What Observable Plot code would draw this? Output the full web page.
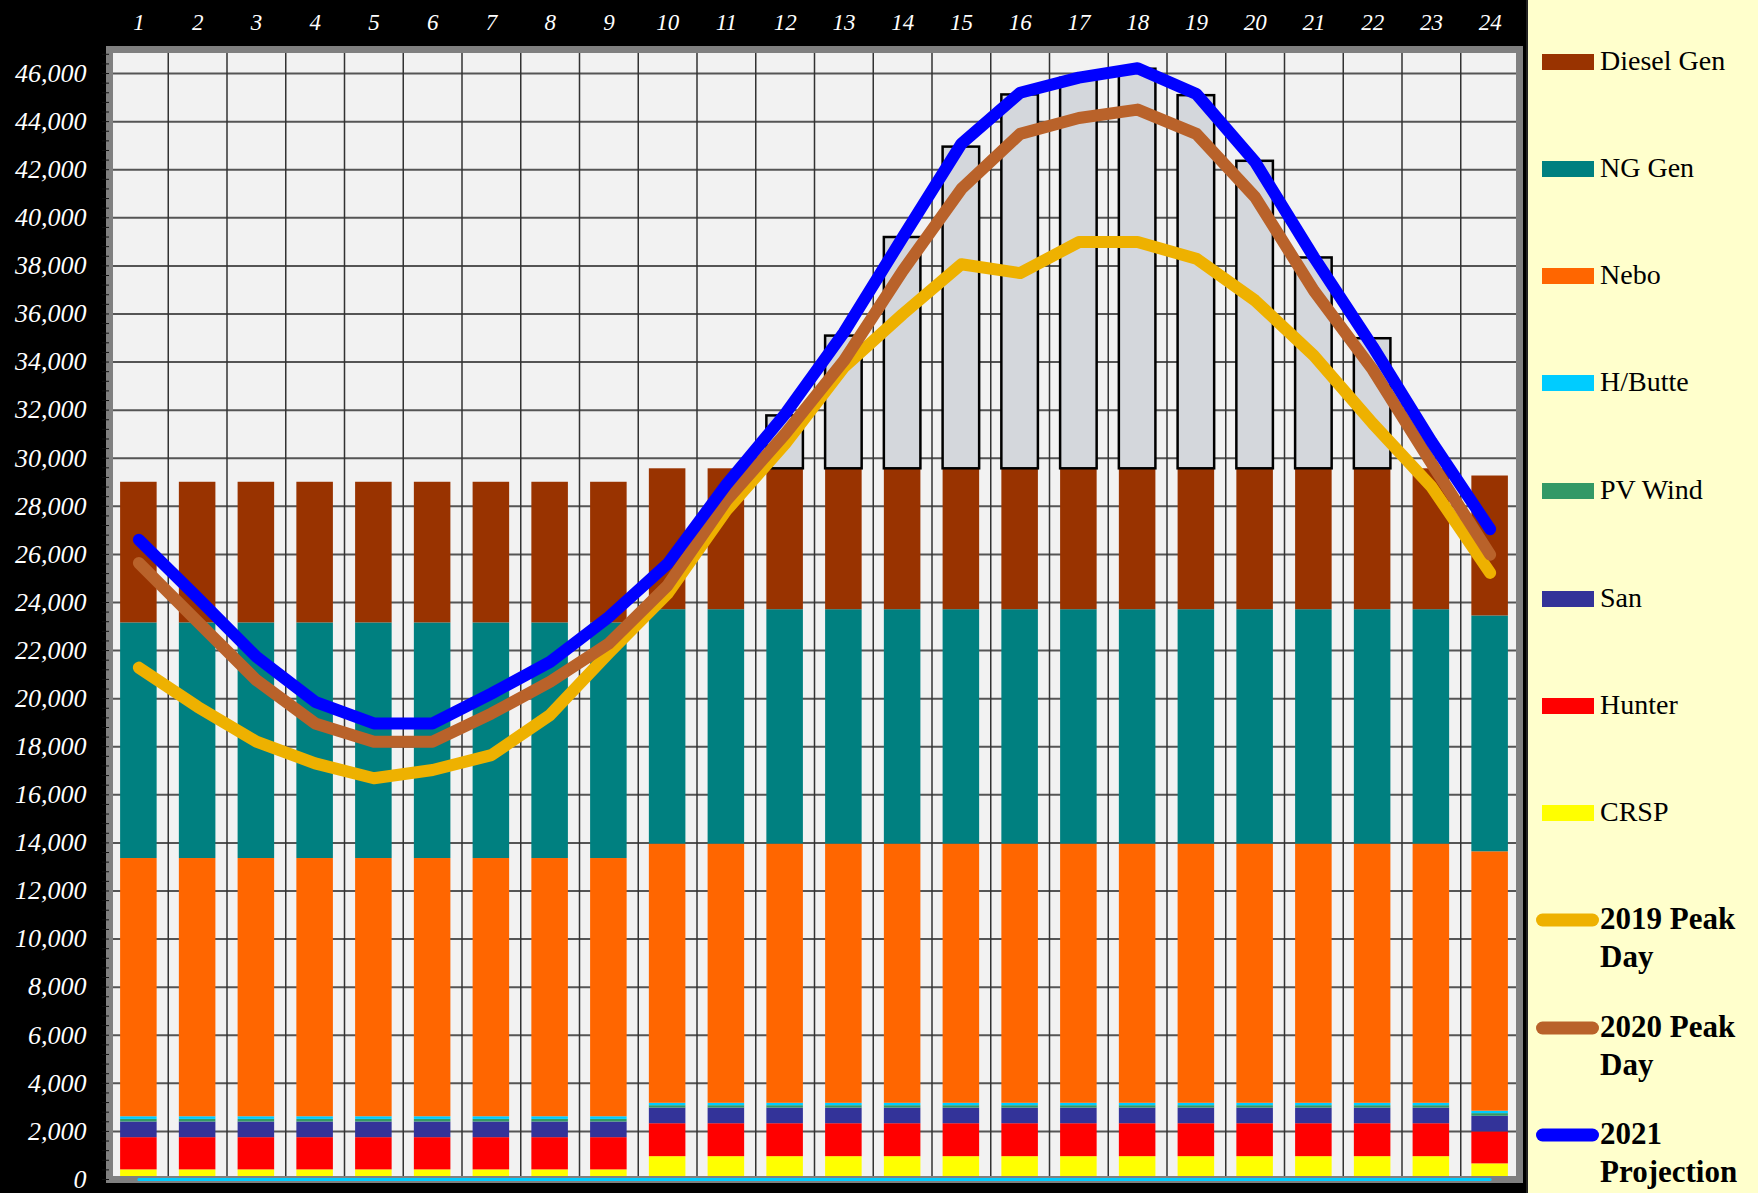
<!DOCTYPE html>
<html><head><meta charset="utf-8">
<script src="https://cdn.jsdelivr.net/npm/d3@7"></script>
<script src="https://cdn.jsdelivr.net/npm/@observablehq/plot@0.6"></script>
<style>
html,body{margin:0;padding:0;background:#000;}
#wrap{display:flex;width:1758px;height:1193px;overflow:hidden;background:#000;}
#chart{width:1526px;height:1193px;}
#chart g[aria-label$="tick label"]{font-style:italic;}
#legend{position:relative;width:232px;height:1193px;background:#FFFFCC;border-left:2px solid #222;box-sizing:border-box;font-family:"Liberation Serif","Times New Roman",serif;color:#000;}
.sw{position:absolute;left:14px;width:52px;height:16px;transform:translateY(-50%);}
.lbl{position:absolute;left:72px;font-size:28px;line-height:32px;transform:translateY(-50%);white-space:nowrap;}
.lsw{position:absolute;left:8px;width:63px;height:13px;border-radius:7px;transform:translateY(-50%);}
.blbl{position:absolute;left:72px;font-size:31px;line-height:38px;font-weight:bold;white-space:nowrap;}
</style></head><body>
<div id="wrap"><div id="chart"></div><div id="legend"></div></div>
<script>
// ---- data ----
const hours = [1,2,3,4,5,6,7,8,9,10,11,12,13,14,15,16,17,18,19,20,21,22,23,24];
const CRSP      = [400,400,400,400,400,400,400,400,400,950,950,950,950,950,950,950,950,950,950,950,950,950,950,650];
const Hunter    = [1340,1340,1340,1340,1340,1340,1340,1340,1340,1370,1370,1370,1370,1370,1370,1370,1370,1370,1370,1370,1370,1370,1370,1330];
const San       = [650,650,650,650,650,650,650,650,650,650,650,650,650,650,650,650,650,650,650,650,650,650,650,650];
const PVWind    = [110,110,110,110,110,110,110,110,110,100,100,100,100,100,100,100,100,100,100,100,100,100,100,110];
const HButte    = [110,110,110,110,110,110,110,110,110,100,100,100,100,100,100,100,100,100,100,100,100,100,100,100];
const Nebo      = [10740,10740,10740,10740,10740,10740,10740,10740,10740,10780,10780,10780,10780,10780,10780,10780,10780,10780,10780,10780,10780,10780,10780,10790];
const NGGen     = [9800,9800,9800,9800,9800,9800,9800,9800,9800,9750,9750,9750,9750,9750,9750,9750,9750,9750,9750,9750,9750,9750,9750,9810];
const DieselGen = [5850,5850,5850,5850,5850,5850,5850,5850,5850,5860,5860,5860,5860,5860,5860,5860,5860,5860,5860,5860,5860,5860,5860,5820];
// shortfall boxes (top values) for hours 12-22
const gapHours = [12,13,14,15,16,17,18,19,20,21,22];
const gapTops  = [31760,35080,39180,42940,45110,45800,46180,45080,42350,38330,34970];
// load lines
const peak2019 = [21290,19660,18210,17310,16690,17030,17650,19320,21900,24370,27830,30600,33780,35990,38070,37700,38990,38990,38300,36560,34270,31450,28820,25230];
const peak2020 = [25640,23200,20770,18970,18210,18210,19380,20700,22290,24710,28240,31010,34050,37790,41200,43490,44150,44500,43490,40860,36970,33690,29800,25990];
const proj2021 = [26610,24200,21740,19870,18970,18970,20210,21530,23400,25610,28900,31840,35230,39180,43080,45200,45830,46220,45150,42320,38360,34650,30700,27050];
const baseLine = [0,0,0,0,0,0,0,0,0,0,0,0,0,0,0,0,0,0,0,0,0,0,0,0];
const yTicks = [0,2000,4000,6000,8000,10000,12000,14000,16000,18000,20000,22000,24000,26000,28000,30000,32000,34000,36000,38000,40000,42000,44000,46000];
const stackNames  = ["CRSP","Hunter","San","PV Wind","H/Butte","Nebo","NG Gen","Diesel Gen"];
const stackColors = ["#FFFF00","#FF0000","#333399","#339966","#00CCFF","#FF6600","#008080","#993300"];
const stackValues = [CRSP,Hunter,San,PVWind,HButte,Nebo,NGGen,DieselGen];
const lineNames  = ["2019 Peak Day","2020 Peak Day","2021 Projection"];
const lineColors = ["#EEB100","#B9622A","#0000FF"];
const lineValues = [peak2019,peak2020,proj2021];

// ---- tables ----
const rows = [];
const stackTop = [];
hours.forEach((h,i)=>{
  let acc = 0;
  stackNames.forEach((s,k)=>{
    const v = stackValues[k][i];
    rows.push({hour:h, series:s, y1:acc, y2:acc+v});
    acc += v;
  });
  stackTop.push(acc);
});
const gapRows = gapHours.map((h,i)=>({hour:h, y1:stackTop[hours.indexOf(h)], y2:gapTops[i]}));
const lineRows = [];
lineNames.forEach((n,k)=>hours.forEach((h,i)=>lineRows.push({hour:h, series:n, value:lineValues[k][i]})));
const bounds = hours.map(h=>h-0.5).concat([hours[hours.length-1]+0.5]);
const minorTicks = d3.range(0, 46801, 400);
const half = 0.311;

const plot = Plot.plot({
  width: 1526, height: 1193,
  marginLeft: 109, marginRight: 7, marginTop: 49, marginBottom: 14,
  x: {domain:[0.5,24.5], axis:null, label:null},
  y: {domain:[0,47000], axis:null, label:null},
  color: {domain: stackNames.concat(lineNames), range: stackColors.concat(lineColors)},
  style: {background:"#000", color:"#fff", fontFamily:"'Liberation Serif','Times New Roman',serif", overflow:"visible"},
  marks: [
    Plot.frame({fill:"#F2F2F2", stroke:null}),
    Plot.ruleY(yTicks, {stroke:"#555", strokeWidth:2}),
    Plot.ruleX(bounds, {stroke:"#333", strokeWidth:1.5}),
    Plot.rect(rows, {x1:d=>d.hour-half, x2:d=>d.hour+half, y1:"y1", y2:"y2", fill:"series"}),
    Plot.rect(gapRows, {x1:d=>d.hour-half, x2:d=>d.hour+half, y1:"y1", y2:"y2", fill:"#D4D7DC", stroke:"#000", strokeWidth:2.5}),
    Plot.frame({stroke:"#808080", strokeWidth:7}),
    Plot.axisY(minorTicks, {anchor:"left", tickSize:7, stroke:"#111", text:null, label:null}),
    Plot.axisY(yTicks, {anchor:"left", tickSize:0, tickPadding:23, tickFormat:d3.format(","), fill:"#fff", fontSize:26, fontStyle:"italic", label:null}),
    Plot.axisX(hours, {anchor:"top", tickSize:0, tickPadding:20, tickFormat:d=>String(d), fill:"#fff", fontSize:23, fontStyle:"italic", label:null}),
    Plot.line(hours, {x:d=>d, y:(d,i)=>baseLine[i], stroke:"#00CCFF", strokeWidth:3}),
    Plot.line(lineRows, {x:"hour", y:"value", z:"series", stroke:"series", strokeWidth:12, strokeLinejoin:"round", strokeLinecap:"round"})
  ]
});
document.getElementById("chart").appendChild(plot);

// ---- legend ----
const legend = document.getElementById("legend");
const legendOrder = ["Diesel Gen","NG Gen","Nebo","H/Butte","PV Wind","San","Hunter","CRSP"];
const legendY = [62,169,276,383,491,599,706,813];
legendOrder.forEach((n,i)=>{
  const c = stackColors[stackNames.indexOf(n)];
  const sw = document.createElement("div"); sw.className="sw"; sw.style.top=legendY[i]+"px"; sw.style.background=c; legend.appendChild(sw);
  const t = document.createElement("div"); t.className="lbl"; t.style.top=(legendY[i]-1)+"px"; t.textContent=n; legend.appendChild(t);
});
const lineLegendY = [920,1028,1135];
const lineLabels = [["2019 Peak","Day"],["2020 Peak","Day"],["2021","Projection"]];
lineNames.forEach((n,k)=>{
  const sw = document.createElement("div"); sw.className="lsw"; sw.style.top=lineLegendY[k]+"px"; sw.style.background=lineColors[k]; legend.appendChild(sw);
  const t = document.createElement("div"); t.className="blbl"; t.style.top=(lineLegendY[k]-20)+"px"; t.innerHTML=lineLabels[k].join("<br>"); legend.appendChild(t);
});
</script>
</body></html>
